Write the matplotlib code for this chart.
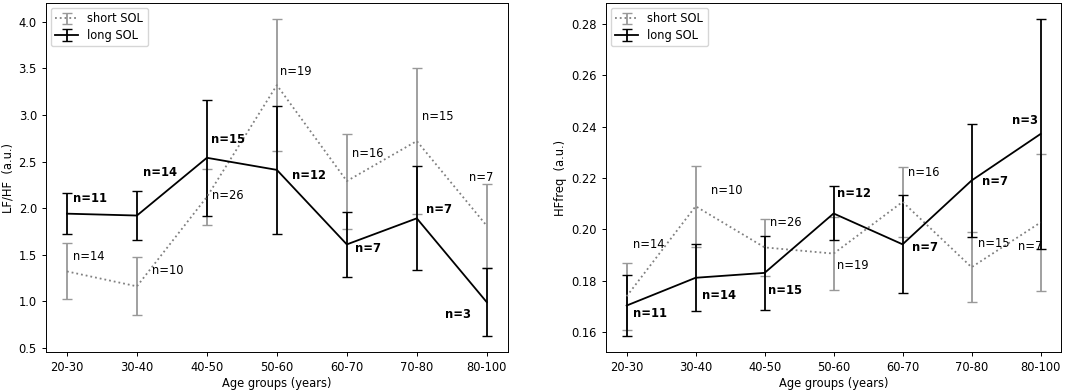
import matplotlib
matplotlib.use("Agg")
import matplotlib.pyplot as plt
import numpy as np

age_groups = ["20-30", "30-40", "40-50", "50-60", "60-70", "70-80", "80-100"]

# LF/HF panel
lfhf_short = [1.32, 1.16, 2.12, 3.32, 2.29, 2.72, 1.81]
lfhf_short_err = [0.30, 0.31, 0.30, 0.71, 0.51, 0.78, 0.45]
lfhf_long = [1.94, 1.92, 2.54, 2.41, 1.61, 1.89, 0.99]
lfhf_long_err = [0.22, 0.26, 0.625, 0.69, 0.35, 0.56, 0.365]

# HFfreq panel
hf_short = [0.174, 0.209, 0.193, 0.1906, 0.2107, 0.1853, 0.2027]
hf_short_err = [0.013, 0.0157, 0.011, 0.0143, 0.0135, 0.0135, 0.0267]
hf_long = [0.1704, 0.1812, 0.1831, 0.2062, 0.1942, 0.219, 0.2371]
hf_long_err = [0.0119, 0.013, 0.0144, 0.0105, 0.019, 0.022, 0.0447]

n_short = [14, 10, 26, 19, 16, 15, 7]
n_long = [11, 14, 15, 12, 7, 7, 3]

# label positions (x in group index units, y in data units)
lfhf_short_lbl_x = [0.085, 1.215, 2.07, 3.05, 4.08, 5.08, 5.745]
lfhf_short_lbl_y = [1.48, 1.33, 2.14, 3.47, 2.59, 2.98, 2.33]
lfhf_long_lbl_x = [0.085, 1.09, 2.055, 3.21, 4.117, 5.13, 5.41]
lfhf_long_lbl_y = [2.10, 2.38, 2.74, 2.35, 1.57, 1.98, 0.86]

hf_short_lbl_x = [0.087, 1.23, 2.08, 3.05, 4.08, 5.09, 5.67]
hf_short_lbl_y = [0.1942, 0.215, 0.2026, 0.186, 0.2222, 0.1945, 0.1934]
hf_long_lbl_x = [0.087, 1.087, 2.05, 3.05, 4.13, 5.145, 5.58]
hf_long_lbl_y = [0.1672, 0.1743, 0.1763, 0.214, 0.1929, 0.2185, 0.2422]

FS = 8.3
plt.rcParams.update({
    "font.size": FS,
    "axes.linewidth": 0.7,
    "xtick.major.size": 3,
    "ytick.major.size": 3,
    "xtick.major.width": 0.7,
    "ytick.major.width": 0.7,
    "legend.fontsize": FS,
})


def draw_panel(ax, short, short_err, long_, long_err,
               s_lx, s_ly, l_lx, l_ly, ylabel):
    x = np.arange(len(age_groups))
    ax.errorbar(x, short, yerr=short_err, color="grey", ls=":", lw=1.3,
                ecolor="#999999", elinewidth=1.3, capsize=3.5, capthick=1.0,
                label="short SOL")
    ax.errorbar(x, long_, yerr=long_err, color="black", ls="-", lw=1.3,
                ecolor="black", elinewidth=1.3, capsize=3.5, capthick=1.0,
                label="long SOL")
    for xi, yi, n in zip(s_lx, s_ly, n_short):
        ax.text(xi, yi, f"n={n}", fontsize=FS, ha="left", va="center")
    for xi, yi, n in zip(l_lx, l_ly, n_long):
        ax.text(xi, yi, f"n={n}", fontsize=FS, ha="left", va="center",
                fontweight="bold")
    ax.set_xticks(x)
    ax.set_xticklabels(age_groups)
    ax.set_xlabel("Age groups (years)", labelpad=2)
    ax.set_ylabel(ylabel, labelpad=3)
    ax.legend(loc="upper left", handlelength=2.0,
              borderaxespad=0.4, labelspacing=0.3)


fig = plt.figure(figsize=(10.84, 3.92), dpi=100)
ax1 = fig.add_axes([0.0424, 0.102, 0.426, 0.890])
ax2 = fig.add_axes([0.559, 0.102, 0.420, 0.890])

draw_panel(ax1, lfhf_short, lfhf_short_err, lfhf_long, lfhf_long_err,
           lfhf_short_lbl_x, lfhf_short_lbl_y, lfhf_long_lbl_x, lfhf_long_lbl_y,
           "LF/HF  (a.u.)")
draw_panel(ax2, hf_short, hf_short_err, hf_long, hf_long_err,
           hf_short_lbl_x, hf_short_lbl_y, hf_long_lbl_x, hf_long_lbl_y,
           "HFfreq  (a.u.)")

fig.savefig("out.png", dpi=100, facecolor="white")
